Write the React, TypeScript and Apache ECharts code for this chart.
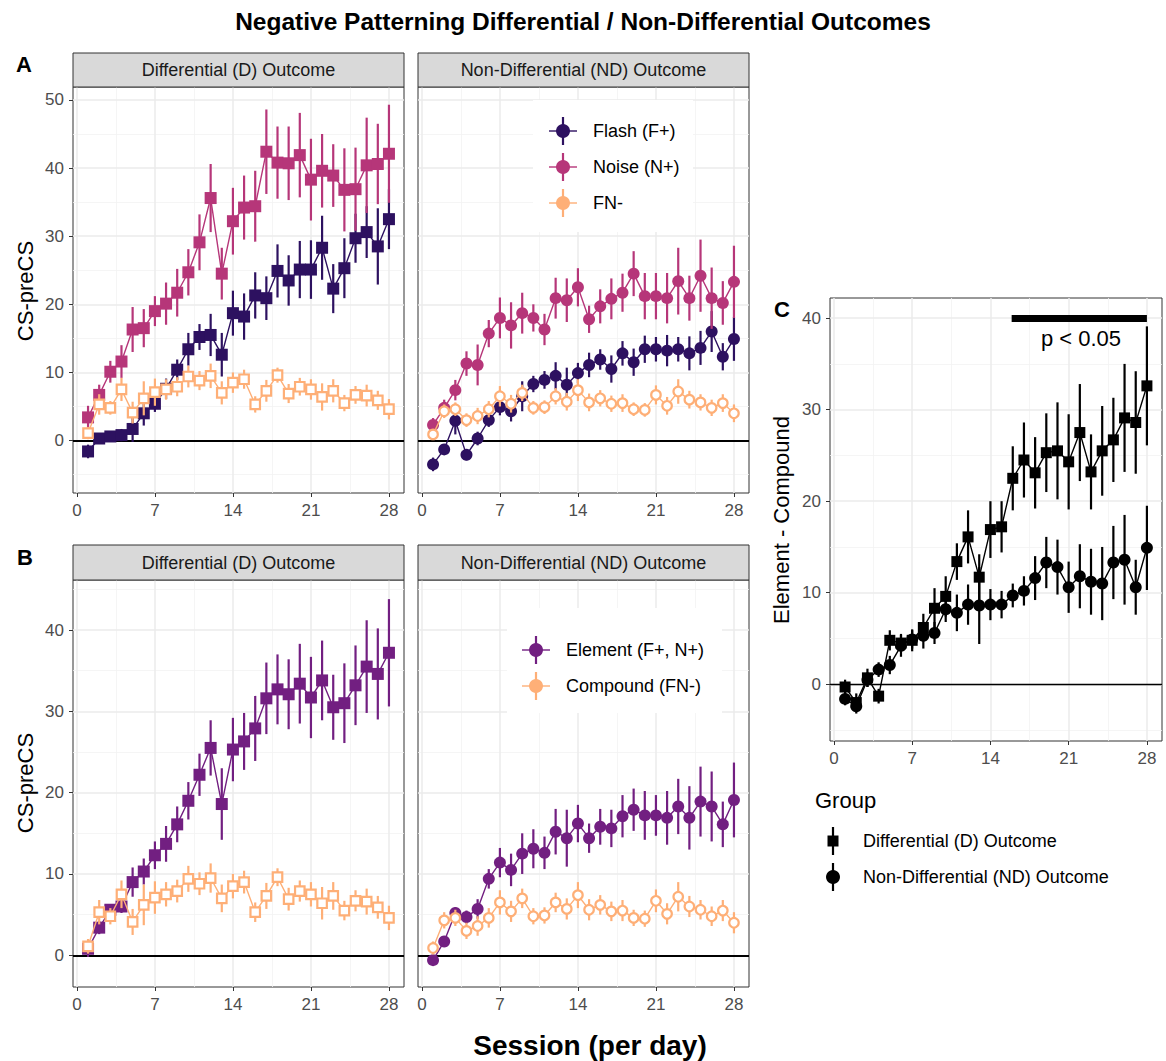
import React, { useEffect, useRef } from 'react';
import * as echarts from 'echarts';

// ---------------- data ----------------
const sessions = [1, 2, 3, 4, 5, 6, 7, 8, 9, 10, 11, 12, 13, 14, 15, 16, 17, 18, 19, 20, 21, 22, 23, 24, 25, 26, 27, 28];
const xTicks = [0, 7, 14, 21, 28];
const xMinor = [3.5, 10.5, 17.5, 24.5];
const yTicksA = [0, 10, 20, 30, 40, 50];
const yMinorA = [-5, 5, 15, 25, 35, 45];
const yTicksB = [0, 10, 20, 30, 40];
const yMinorB = [5, 15, 25, 35, 45];
const yTicksC = [0, 10, 20, 30, 40];
const yMinorC = [-5, 5, 15, 25, 35];

// Panel A, Differential outcome
const flashD = [-1.6, 0.3, 0.6, 0.8, 1.7, 4.0, 5.4, 7.6, 10.4, 13.4, 15.2, 15.5, 12.6, 18.7, 18.2, 21.3, 20.9, 24.9, 23.5, 25.1, 25.1, 28.3, 22.3, 25.3, 29.7, 30.6, 28.5, 32.5];
const flashDse = [1.0, 0.8, 0.8, 0.9, 1.9, 1.8, 1.2, 1.5, 1.5, 2.4, 1.9, 3.1, 3.2, 3.3, 3.4, 3.4, 3.2, 3.9, 3.7, 4.2, 4.3, 4.7, 3.6, 4.4, 3.6, 3.8, 5.6, 4.4];
const noiseD = [3.4, 6.7, 10.1, 11.6, 16.3, 16.5, 19.0, 20.1, 21.7, 24.7, 29.1, 35.6, 24.5, 32.2, 34.2, 34.4, 42.4, 40.8, 40.7, 41.9, 38.3, 39.6, 38.9, 36.8, 36.9, 40.4, 40.6, 42.1];
const noiseDse = [1.7, 1.5, 1.6, 2.4, 3.3, 2.8, 2.2, 3.1, 3.5, 3.4, 4.1, 5.0, 3.8, 4.9, 4.7, 5.2, 6.2, 5.3, 5.4, 6.2, 6.0, 5.4, 4.6, 6.1, 6.1, 7.0, 5.9, 7.2];
// FN- / Compound, Differential outcome
const compoundD = [1.1, 5.3, 4.8, 7.5, 4.1, 6.2, 7.1, 7.5, 7.9, 9.4, 8.8, 9.5, 7.0, 8.5, 9.0, 5.3, 7.3, 9.6, 6.9, 7.9, 7.5, 6.4, 7.3, 5.5, 6.7, 6.6, 5.9, 4.6];
const compoundDse = [0.9, 1.5, 1.0, 1.7, 1.6, 2.5, 2.0, 1.5, 1.4, 1.6, 1.4, 1.8, 1.7, 1.5, 1.4, 1.2, 1.6, 1.1, 1.4, 1.3, 1.5, 2.0, 1.7, 1.2, 1.3, 1.6, 1.4, 1.5];

// Panel A, Non-differential outcome
const flashND = [-3.5, -1.3, 2.9, -2.1, 0.3, 3.0, 4.9, 4.3, 6.5, 8.3, 8.9, 9.5, 8.2, 9.9, 11.1, 11.9, 10.5, 12.8, 11.5, 13.4, 13.4, 13.2, 13.4, 12.8, 13.6, 16.0, 12.3, 14.9];
const flashNDse = [1.0, 0.6, 2.0, 0.8, 1.0, 1.0, 1.2, 1.5, 2.2, 1.2, 1.3, 2.0, 2.5, 1.5, 1.8, 1.5, 2.0, 1.8, 2.0, 2.0, 1.8, 2.3, 1.8, 2.5, 2.5, 3.0, 2.0, 3.2];
const noiseND = [2.3, 4.8, 7.4, 11.3, 11.1, 15.7, 18.0, 16.9, 18.7, 18.0, 16.3, 20.9, 20.6, 22.5, 17.8, 19.7, 20.8, 21.7, 24.5, 21.2, 21.2, 20.9, 23.4, 20.9, 24.2, 20.9, 20.2, 23.3];
const noiseNDse = [1.0, 1.2, 1.5, 1.8, 3.0, 2.0, 3.0, 3.4, 3.0, 2.0, 2.3, 3.0, 3.2, 2.8, 2.0, 2.5, 3.0, 2.8, 3.3, 3.4, 3.4, 3.7, 4.9, 3.3, 5.3, 4.5, 3.2, 5.3];
const compoundND = [0.9, 4.3, 4.6, 3.0, 3.6, 4.6, 6.5, 5.4, 7.0, 4.8, 4.9, 6.5, 5.7, 7.4, 5.6, 6.2, 5.4, 5.5, 4.6, 4.5, 6.7, 5.1, 7.2, 6.0, 5.6, 4.8, 5.5, 4.0];
const compoundNDse = [0.8, 1.0, 1.0, 1.0, 1.2, 1.2, 1.5, 1.3, 1.2, 1.0, 1.0, 1.2, 1.3, 1.6, 1.3, 1.2, 1.2, 1.3, 1.0, 1.0, 1.4, 1.3, 1.8, 1.3, 1.2, 1.2, 1.3, 1.3];

// Panel B, Element (F+, N+)
const elementD = [0.8, 3.4, 5.6, 6.0, 9.0, 10.3, 12.3, 13.7, 16.1, 19.0, 22.2, 25.5, 18.6, 25.3, 26.3, 27.9, 31.6, 32.7, 32.1, 33.4, 31.7, 33.8, 30.5, 31.0, 33.2, 35.5, 34.6, 37.2];
const elementDse = [1.0, 0.8, 0.6, 0.8, 1.8, 1.6, 1.7, 2.2, 2.2, 2.3, 2.6, 3.4, 4.4, 3.9, 3.5, 4.0, 4.4, 4.3, 4.3, 4.9, 5.0, 4.9, 4.0, 4.9, 4.9, 5.7, 5.6, 6.6];
const elementND = [-0.6, 1.7, 5.2, 4.7, 5.7, 9.4, 11.4, 10.5, 12.5, 13.1, 12.6, 15.2, 14.4, 16.2, 14.4, 15.8, 15.6, 17.1, 17.9, 17.2, 17.2, 16.9, 18.3, 16.9, 18.9, 18.3, 16.1, 19.1];
const elementNDse = [0.5, 0.6, 0.7, 0.8, 1.2, 1.2, 1.8, 2.0, 2.5, 2.4, 2.0, 2.8, 3.5, 2.3, 1.8, 2.2, 2.3, 2.6, 2.6, 3.0, 2.5, 3.3, 3.4, 3.9, 4.3, 4.3, 2.8, 4.6];

// Panel C, Element - Compound
const diffD = [-0.3, -2.0, 0.7, -1.3, 4.8, 4.5, 4.8, 6.2, 8.3, 9.6, 13.4, 16.1, 11.7, 16.9, 17.2, 22.5, 24.5, 23.1, 25.3, 25.5, 24.3, 27.5, 23.2, 25.5, 26.7, 29.1, 28.6, 32.6];
const diffDse = [0.8, 1.0, 1.0, 0.8, 1.1, 1.0, 1.2, 1.5, 2.2, 2.2, 2.0, 2.9, 2.5, 3.1, 2.8, 3.5, 4.1, 3.9, 4.3, 5.3, 5.2, 5.3, 4.1, 4.9, 4.6, 5.9, 5.6, 6.5];
const diffND = [-1.6, -2.4, 0.5, 1.6, 2.1, 4.2, 4.9, 5.3, 5.6, 8.2, 7.8, 8.7, 8.6, 8.7, 8.7, 9.7, 10.2, 11.6, 13.3, 12.8, 10.6, 11.8, 11.2, 11.0, 13.3, 13.6, 10.6, 14.9];
const diffNDse = [0.7, 0.8, 0.8, 0.8, 1.0, 1.2, 1.0, 1.4, 1.2, 1.4, 2.0, 2.2, 4.2, 1.7, 1.5, 1.3, 1.6, 2.4, 2.8, 3.0, 2.8, 3.5, 3.6, 4.0, 4.0, 4.9, 3.0, 4.6];

const sigBar = { from: 15.9, to: 28, y: 40 };

// ---------------- styles ----------------
const COL = { flash: '#2D1160', noise: '#B63679', fn: '#FEAF77', element: '#721F81', black: '#000000' };
const FONT = '"Liberation Sans", Arial, Helvetica, sans-serif';
const W = 1166;
const H = 1061;

const PANELS = [
  { left: 73, top: 87, width: 331, height: 406, yMin: -7.7, yMax: 51.9, yTicks: yTicksA, yMinor: yMinorA, zeroW: 2, yLab: true },
  { left: 418, top: 87, width: 331, height: 406, yMin: -7.7, yMax: 51.9, yTicks: yTicksA, yMinor: yMinorA, zeroW: 2, yLab: false },
  { left: 73, top: 580, width: 331, height: 407, yMin: -3.9, yMax: 46.15, yTicks: yTicksB, yMinor: yMinorB, zeroW: 2, yLab: true },
  { left: 418, top: 580, width: 331, height: 407, yMin: -3.9, yMax: 46.15, yTicks: yTicksB, yMinor: yMinorB, zeroW: 2, yLab: false },
  { left: 830, top: 298, width: 332, height: 443, yMin: -6.2, yMax: 42.2, yTicks: yTicksC, yMinor: yMinorC, zeroW: 1.4, yLab: true },
];

const majorStyle = { color: '#EBEBEB', width: 1.5, type: 'solid' };
const minorStyle = { color: '#F2F2F2', width: 0.8, type: 'solid' };

function helperSeries(gi: number, extra: any[] = []) {
  const p = PANELS[gi];
  return {
    type: 'line',
    name: 'grid' + gi,
    data: [],
    xAxisIndex: gi,
    yAxisIndex: gi,
    z: 1,
    silent: true,
    markLine: {
      z: 1,
      silent: true,
      animation: false,
      symbol: ['none', 'none'],
      label: { show: false },
      emphasis: { disabled: true },
      data: [
        ...xMinor.map((v) => ({ xAxis: v, lineStyle: minorStyle })),
        ...p.yMinor.filter((v) => v > p.yMin && v < p.yMax).map((v) => ({ yAxis: v, lineStyle: minorStyle })),
        ...xTicks.map((v) => ({ xAxis: v, lineStyle: majorStyle })),
        ...p.yTicks.map((v) => ({ yAxis: v, lineStyle: majorStyle })),
        { yAxis: 0, lineStyle: { color: '#000', width: p.zeroW, type: 'solid' } },
        ...extra,
      ],
    },
  };
}

let zc = 10;
function errSeries(gi: number, name: string, mean: number[], se: number[], color: string) {
  return {
    type: 'custom',
    name: name + ' SE',
    xAxisIndex: gi,
    yAxisIndex: gi,
    z: zc++,
    silent: true,
    data: sessions.map((s, i) => [s, mean[i], se[i]]),
    encode: { x: 0, y: 1 },
    renderItem: (_params: any, api: any) => {
      const x = api.value(0);
      const y = api.value(1);
      const e = api.value(2);
      const a = api.coord([x, y - e]);
      const b = api.coord([x, y + e]);
      return {
        type: 'line',
        shape: { x1: a[0], y1: a[1], x2: b[0], y2: b[1] },
        style: { stroke: color, lineWidth: 2.2, fill: null },
      };
    },
  };
}

function lineSeries(gi: number, name: string, mean: number[], color: string, symbol: string, size: number, open: boolean) {
  return {
    type: 'line',
    name,
    xAxisIndex: gi,
    yAxisIndex: gi,
    z: zc++,
    silent: true,
    data: sessions.map((s, i) => [s, mean[i]]),
    symbol,
    symbolSize: size,
    showSymbol: true,
    showAllSymbol: true,
    lineStyle: { color, width: 1.4 },
    itemStyle: open ? { color: '#FFFFFF', borderColor: color, borderWidth: 2.2 } : { color, borderColor: color, borderWidth: 0 },
    emphasis: { disabled: true },
  };
}

function pair(gi: number, name: string, mean: number[], se: number[], color: string, symbol: string, size: number, open = false) {
  return [errSeries(gi, name, mean, se, color), lineSeries(gi, name, mean, color, symbol, size, open)];
}

function txt(x: number, y: number, text: string, size: number, opts: any = {}) {
  return {
    type: 'text',
    x,
    y,
    z: 100,
    rotation: opts.rotation || 0,
    style: {
      text,
      fontSize: size,
      fontFamily: opts.fontFamily || FONT,
      fontWeight: opts.bold ? 'bold' : 'normal',
      fill: opts.fill || '#000',
      align: opts.align || 'center',
      verticalAlign: 'middle',
    },
  };
}

function strip(gi: number, top: number, label: string) {
  const p = PANELS[gi];
  return [
    { type: 'rect', z: 100, shape: { x: p.left, y: top, width: p.width, height: p.top - top }, style: { fill: '#D9D9D9', stroke: '#333333', lineWidth: 1 } },
    txt(p.left + p.width / 2, (top + p.top) / 2, label, 18, { fill: '#1A1A1A' }),
  ];
}

function lineKey(cx: number, cy: number, color: string) {
  return [
    { type: 'line', z: 101, shape: { x1: cx - 14, y1: cy, x2: cx + 14, y2: cy }, style: { stroke: color, lineWidth: 1.4 } },
    { type: 'line', z: 101, shape: { x1: cx, y1: cy - 14, x2: cx, y2: cy + 14 }, style: { stroke: color, lineWidth: 2.2 } },
    { type: 'circle', z: 102, shape: { cx, cy, r: 7 }, style: { fill: color } },
  ];
}

function groupKey(cx: number, cy: number, square: boolean) {
  return [
    { type: 'line', z: 101, shape: { x1: cx, y1: cy - 14, x2: cx, y2: cy + 14 }, style: { stroke: '#000', lineWidth: 2.2 } },
    square
      ? { type: 'rect', z: 102, shape: { x: cx - 5.5, y: cy - 5.5, width: 11, height: 11 }, style: { fill: '#000' } }
      : { type: 'circle', z: 102, shape: { cx, cy, r: 7 }, style: { fill: '#000' } },
  ];
}

function xAx(gi: number) {
  return {
    type: 'value',
    gridIndex: gi,
    min: -0.35,
    max: 29.35,
    axisLine: { show: false, onZero: false },
    splitLine: { show: false },
    minorSplitLine: { show: false },
    axisTick: { show: true, customValues: xTicks, length: 4, lineStyle: { color: '#333333', width: 1 } },
    axisLabel: { show: true, customValues: xTicks, color: '#4D4D4D', fontSize: 17, margin: 9, fontFamily: FONT },
  };
}

function yAx(gi: number) {
  const p = PANELS[gi];
  return {
    type: 'value',
    gridIndex: gi,
    min: p.yMin,
    max: p.yMax,
    axisLine: { show: false, onZero: false },
    splitLine: { show: false },
    minorSplitLine: { show: false },
    axisTick: { show: p.yLab, customValues: p.yTicks, length: 4, lineStyle: { color: '#333333', width: 1 } },
    axisLabel: { show: p.yLab, customValues: p.yTicks, color: '#4D4D4D', fontSize: 17, margin: 9, fontFamily: FONT },
  };
}

function buildOption() {
  zc = 10;
  const series: any[] = [
    helperSeries(0),
    helperSeries(1),
    helperSeries(2),
    helperSeries(3),
    helperSeries(4, [
      [
        { coord: [sigBar.from, sigBar.y], lineStyle: { color: '#000', width: 7, type: 'solid', cap: 'butt' } },
        { coord: [sigBar.to, sigBar.y] },
      ],
    ]),
    // A - D
    ...pair(0, 'Flash (F+)', flashD, flashDse, COL.flash, 'rect', 12),
    ...pair(0, 'Noise (N+)', noiseD, noiseDse, COL.noise, 'rect', 12),
    ...pair(0, 'FN-', compoundD, compoundDse, COL.fn, 'rect', 9.5, true),
    // A - ND
    ...pair(1, 'Flash (F+)', flashND, flashNDse, COL.flash, 'circle', 12),
    ...pair(1, 'Noise (N+)', noiseND, noiseNDse, COL.noise, 'circle', 12),
    ...pair(1, 'FN-', compoundND, compoundNDse, COL.fn, 'circle', 9.5, true),
    // B - D
    ...pair(2, 'Element (F+, N+)', elementD, elementDse, COL.element, 'rect', 12),
    ...pair(2, 'Compound (FN-)', compoundD, compoundDse, COL.fn, 'rect', 9.5, true),
    // B - ND
    ...pair(3, 'Element (F+, N+)', elementND, elementNDse, COL.element, 'circle', 12),
    ...pair(3, 'Compound (FN-)', compoundND, compoundNDse, COL.fn, 'circle', 9.5, true),
    // C
    ...pair(4, 'Differential (D) Outcome', diffD, diffDse, COL.black, 'rect', 11),
    ...pair(4, 'Non-Differential (ND) Outcome', diffND, diffNDse, COL.black, 'circle', 12),
  ];

  const graphics: any[] = [
    txt(583, 21, 'Negative Patterning Differential / Non-Differential Outcomes', 24.5, { bold: true }),
    txt(590, 1045, 'Session (per day)', 28, { bold: true }),
    txt(24, 64, 'A', 22, { bold: true }),
    txt(25, 557, 'B', 22, { bold: true }),
    txt(782, 309, 'C', 22, { bold: true }),
    txt(25, 291, 'CS-preCS', 22, { rotation: Math.PI / 2 }),
    txt(25, 783, 'CS-preCS', 22, { rotation: Math.PI / 2 }),
    txt(781, 520, 'Element - Compound', 22, { rotation: Math.PI / 2 }),
    txt(1081, 338, 'p < 0.05', 22),
    ...strip(0, 53, 'Differential (D) Outcome'),
    ...strip(1, 53, 'Non-Differential (ND) Outcome'),
    ...strip(2, 545, 'Differential (D) Outcome'),
    ...strip(3, 545, 'Non-Differential (ND) Outcome'),
    // legend A
    { type: 'rect', z: 99, shape: { x: 533, y: 100, width: 160, height: 132 }, style: { fill: '#FFFFFF' } },
    ...lineKey(563, 131, COL.flash),
    ...lineKey(563, 167, COL.noise),
    ...lineKey(563, 203, COL.fn),
    txt(593, 131, 'Flash (F+)', 18, { align: 'left' }),
    txt(593, 167, 'Noise (N+)', 18, { align: 'left' }),
    txt(593, 203, 'FN-', 18, { align: 'left' }),
    // legend B
    { type: 'rect', z: 99, shape: { x: 507, y: 608, width: 215, height: 105 }, style: { fill: '#FFFFFF' } },
    ...lineKey(536, 650, COL.element),
    ...lineKey(536, 686, COL.fn),
    txt(566, 650, 'Element (F+, N+)', 18, { align: 'left' }),
    txt(566, 686, 'Compound (FN-)', 18, { align: 'left' }),
    // legend C
    txt(815, 800, 'Group', 22, { align: 'left' }),
    ...groupKey(833, 841, true),
    ...groupKey(833, 877, false),
    txt(863, 841, 'Differential (D) Outcome', 18, { align: 'left' }),
    txt(863, 877, 'Non-Differential (ND) Outcome', 18, { align: 'left' }),
  ];

  return {
    animation: false,
    backgroundColor: '#FFFFFF',
    textStyle: { fontFamily: FONT },
    grid: PANELS.map((p) => ({
      left: p.left,
      top: p.top,
      width: p.width,
      height: p.height,
      containLabel: false,
      outerBoundsMode: 'none',
      show: true,
      backgroundColor: '#FFFFFF',
      borderColor: '#333333',
      borderWidth: 1,
    })),
    xAxis: PANELS.map((_p, i) => xAx(i)),
    yAxis: PANELS.map((_p, i) => yAx(i)),
    series,
    graphic: { elements: graphics },
  };
}

export default function App() {
  const ref = useRef<HTMLDivElement>(null);
  useEffect(() => {
    document.body.style.margin = '0';
    if (!ref.current) return;
    const chart = echarts.init(ref.current, null, { renderer: 'svg', width: W, height: H });
    chart.setOption(buildOption() as any);
    return () => chart.dispose();
  }, []);
  return <div ref={ref} style={{ position: 'absolute', left: 0, top: 0, width: W, height: H }} />;
}
